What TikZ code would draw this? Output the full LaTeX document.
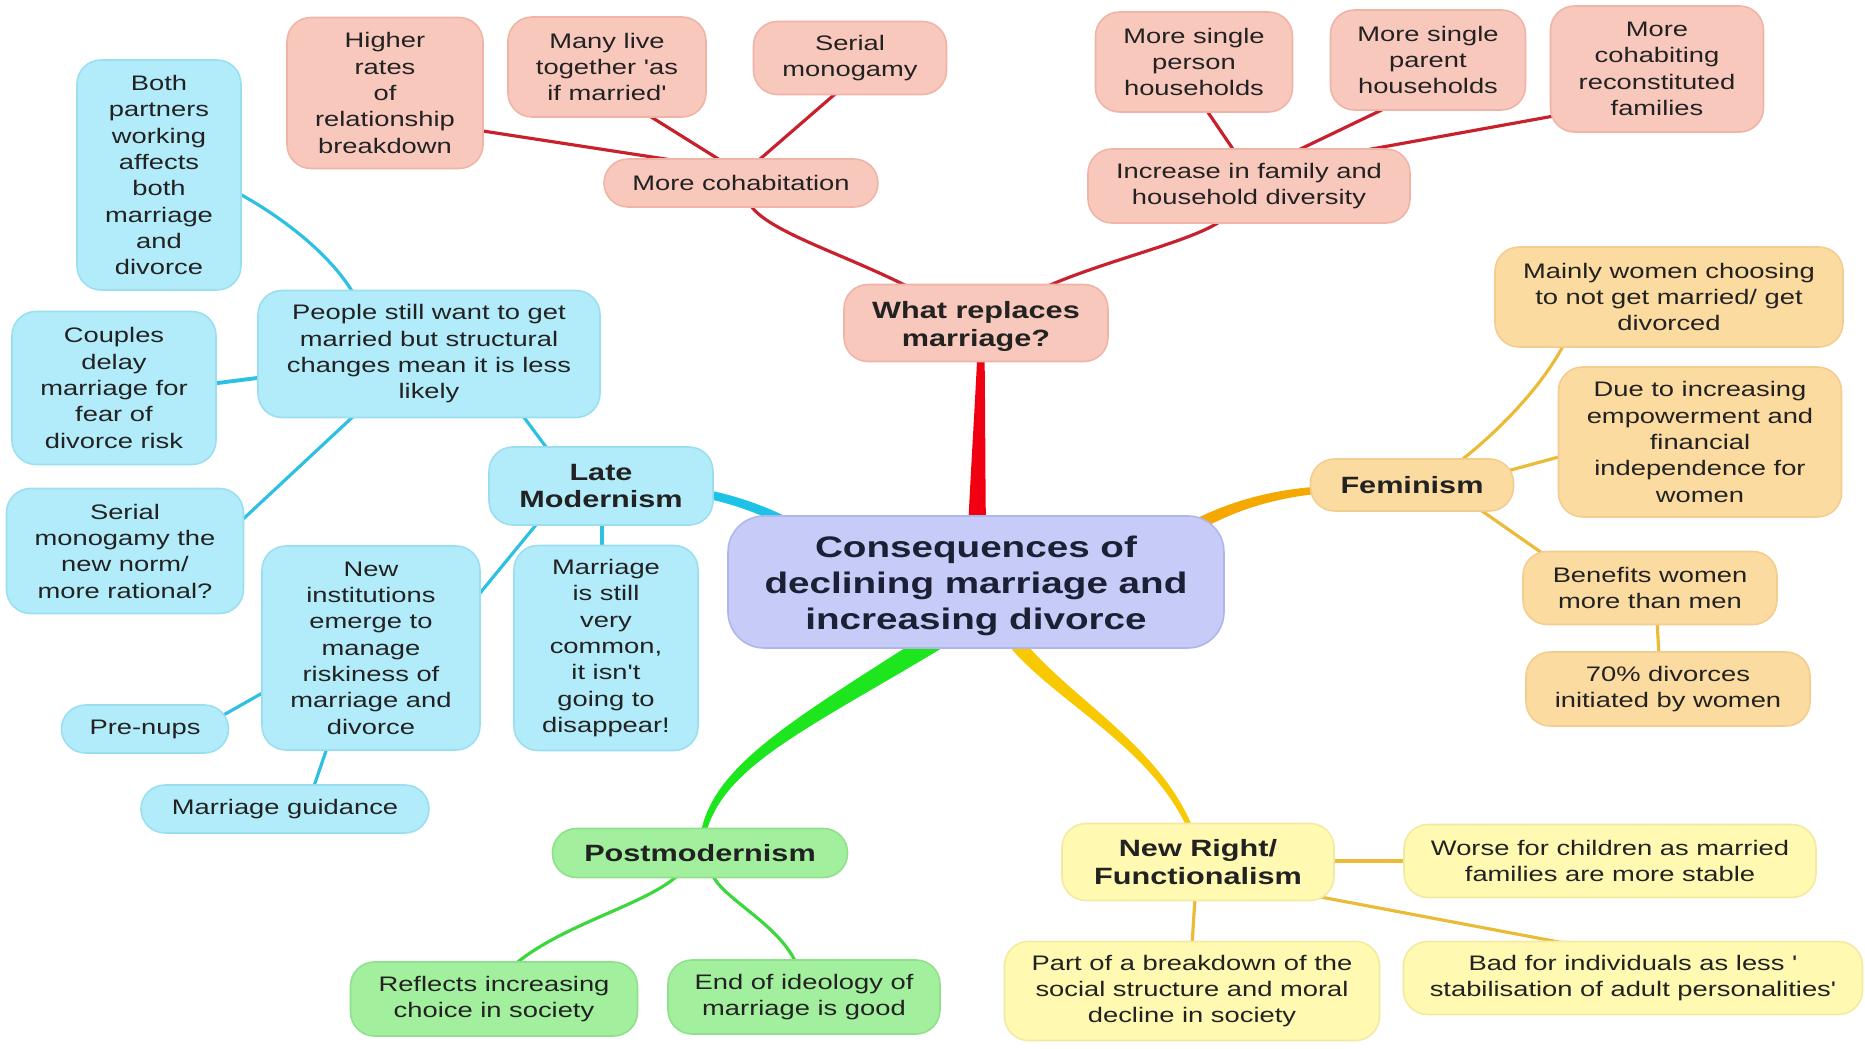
\documentclass[tikz,border=0pt]{standalone}
\usepackage{fontspec}
\newfontfamily\mmfont{Liberation Sans}[FakeStretch=1.3, Ligatures=TeXOff]
\usetikzlibrary{calc}
\pgfdeclarelayer{paper}
\pgfdeclarelayer{links}
\pgfsetlayers{paper,links,main}

% box fills and outlines
\definecolor{pinkfill}{HTML}{F9C8BC}\definecolor{pinkline}{HTML}{F0B4A6}
\definecolor{cyanfill}{HTML}{B2ECFA}\definecolor{cyanline}{HTML}{9ADFF0}
\definecolor{orngfill}{HTML}{FCDBA0}\definecolor{orngline}{HTML}{F3CD90}
\definecolor{yellfill}{HTML}{FFF9B2}\definecolor{yellline}{HTML}{F2EAA2}
\definecolor{grenfill}{HTML}{A2F09E}\definecolor{grenline}{HTML}{8FE08B}
\definecolor{centfill}{HTML}{C6CCF7}\definecolor{centline}{HTML}{AFB6EA}
\definecolor{textcol}{HTML}{222222}\definecolor{titlecol}{HTML}{1B2035}
% connector colours
\definecolor{redmain}{HTML}{F00010}\definecolor{redthin}{HTML}{C8202C}
\definecolor{cyanmain}{HTML}{1CC3E6}\definecolor{cyanthin}{HTML}{2CC0E2}
\definecolor{orngmain}{HTML}{F5A800}\definecolor{goldthin}{HTML}{EBBB38}
\definecolor{yellmain}{HTML}{F8C800}
\definecolor{grenmain}{HTML}{1EE61E}\definecolor{grenthin}{HTML}{3CD73C}

\tikzset{
  box/.style={rectangle, rounded corners=0.24cm, draw, line width=0.45pt,
    inner sep=0pt, align=center, text=textcol,
    font=\mmfont\fontsize{5.98}{7.49}\selectfont},
  sz/.style 2 args={minimum width=#1*0.01cm, minimum height=#2*0.01cm},
  pinkbox/.style={box, fill=pinkfill, draw=pinkline},
  cyanbox/.style={box, fill=cyanfill, draw=cyanline},
  orngbox/.style={box, fill=orngfill, draw=orngline},
  yellbox/.style={box, fill=yellfill, draw=yellline},
  grenbox/.style={box, fill=grenfill, draw=grenline},
  head/.style={font=\mmfont\fontsize{6.7}{7.8}\selectfont\bfseries},
  link/.style={line width=0.9pt, line cap=round},
  redlink/.style={link, draw=redthin},
  cyanlink/.style={link, draw=cyanthin},
  goldlink/.style={link, draw=goldthin},
  grenlink/.style={link, draw=grenthin},
}

% tapered branch: colour, start, control 1, control 2, end, half width at start / end (pt)
\newcommand\taperlink[7]{%
  \fill[#1] let \p0=#2, \p1=#3, \p2=#4, \p3=#5,
      \n0={atan2(\y1-\y0,\x1-\x0)}, \n3={atan2(\y3-\y2,\x3-\x2)},
      \n5={#6*0.67+#7*0.33}, \n6={#6*0.33+#7*0.67} in
    ($(\p0)+(\n0+90:#6pt)$) .. controls ($(\p1)+(\n0+90:\n5pt)$) and ($(\p2)+(\n3+90:\n6pt)$) .. ($(\p3)+(\n3+90:#7pt)$)
    -- ($(\p3)+(\n3-90:#7pt)$) .. controls ($(\p2)+(\n3-90:\n6pt)$) and ($(\p1)+(\n0-90:\n5pt)$) .. ($(\p0)+(\n0-90:#6pt)$) -- cycle;}

\begin{document}
\begin{tikzpicture}[x=0.01cm, y=-0.01cm]
\begin{pgfonlayer}{paper}
\fill[white] (0,0) rectangle (1865,1049);
\end{pgfonlayer}
\useasboundingbox (0,0) rectangle (1865,1049);

% centre
\node[box, fill=centfill, draw=centline, rounded corners=0.36cm, sz={496}{132},
  font=\mmfont\fontsize{8.45}{10.3}\selectfont\bfseries, text=titlecol]
  (central) at (976,582) {\rule{0pt}{8.2pt}Consequences of\\declining marriage and\\increasing divorce};

% what replaces marriage
\node[pinkbox, head, sz={264}{77}] (whatrep) at (976,323) {\rule{0pt}{6.9pt}What replaces\\marriage?};
\node[pinkbox, sz={274}{48}] (cohab) at (741,183) {More cohabitation};
\node[pinkbox, sz={196}{151}] (higher) at (385,93) {Higher\\rates\\of\\relationship\\breakdown};
\node[pinkbox, sz={198}{100}] (manylive) at (607,67) {Many live\\together 'as\\if married'};
\node[pinkbox, sz={193}{73}] (serialmono) at (850,58) {Serial\\monogamy};
\node[pinkbox, sz={322}{74}] (increase) at (1249,186) {Increase in family and\\household diversity};
\node[pinkbox, sz={197}{100}] (singleperson) at (1194,62) {More single\\person\\households};
\node[pinkbox, sz={195}{100}] (singleparent) at (1428,60) {More single\\parent\\households};
\node[pinkbox, sz={213}{126}] (recon) at (1657,69) {More\\cohabiting\\reconstituted\\families};

% feminism
\node[orngbox, head, sz={203}{52}] (feminism) at (1412,485) {Feminism};
\node[orngbox, sz={348}{100}] (mainly) at (1669,297) {Mainly women choosing\\to not get married/ get\\divorced};
\node[orngbox, sz={283}{150}] (dueto) at (1700,442) {Due to increasing\\empowerment and\\financial\\independence for\\women};
\node[orngbox, sz={254}{73}] (benefits) at (1650,588) {Benefits women\\more than men};
\node[orngbox, sz={284}{74}] (seventy) at (1668,689) {70\% divorces\\initiated by women};

% new right / functionalism
\node[yellbox, head, sz={272}{77}] (newright) at (1198,862) {New Right/\\Functionalism};
\node[yellbox, sz={412}{73}] (worse) at (1610,861) {Worse for children as married\\families are more stable};
\node[yellbox, sz={375}{99}] (partof) at (1192,991) {Part of a breakdown of the\\social structure and moral\\decline in society};
\node[yellbox, sz={459}{73}] (badfor) at (1633,978) {Bad for individuals as less '\\stabilisation of adult personalities'};

% postmodernism
\node[grenbox, head, sz={295}{49}] (postmod) at (700,853) {Postmodernism};
\node[grenbox, sz={287}{74}] (reflects) at (494,999) {Reflects increasing\\choice in society};
\node[grenbox, sz={272}{74}] (endof) at (804,997) {End of ideology of\\marriage is good};

% late modernism
\node[cyanbox, head, sz={224}{78}] (latemod) at (601,486) {Late\\Modernism};
\node[cyanbox, sz={342}{127}] (people) at (429,354) {People still want to get\\married but  structural\\changes mean it is less\\likely};
\node[cyanbox, sz={164}{230}] (both) at (159,175) {Both\\partners\\working\\affects\\both\\marriage\\and\\divorce};
\node[cyanbox, sz={204}{153}] (couples) at (114,388) {Couples\\delay\\marriage for\\fear of\\divorce risk};
\node[cyanbox, sz={237}{125}] (serialnew) at (125,551) {Serial\\monogamy the\\new norm/\\more rational?};
\node[cyanbox, sz={218}{204}] (newinst) at (371,648) {New\\institutions\\emerge to\\manage\\riskiness of\\marriage and\\divorce};
\node[cyanbox, sz={184}{205}] (stillcommon) at (606,648) {Marriage\\is still\\very\\common,\\it isn't\\going to\\disappear!};
\node[cyanbox, sz={167}{48}] (prenups) at (145,729) {Pre-nups};
\node[cyanbox, sz={288}{48}] (guidance) at (285,809) {Marriage guidance};

\begin{pgfonlayer}{links}
% main branches from the centre
\taperlink{redmain}{($(central)+(1,-52)$)}{($(central)+(2,-112)$)}{($(whatrep)+(4,87)$)}{($(whatrep)+(5,29)$)}{2.56}{1.0}
\taperlink{cyanmain}{($(latemod)+(105,8)$)}{($(latemod)+(129,13)$)}{($(central)+(-216,-74)$)}{($(central)+(-186,-58)$)}{1.2}{1.35}
\taperlink{orngmain}{($(central)+(219,-56)$)}{($(central)+(256,-76)$)}{($(feminism)+(-140,9)$)}{($(feminism)+(-92,5)$)}{1.7}{1.0}
\taperlink{grenmain}{($(central)+(-40,58)$)}{($(central)+(-175,142)$)}{($(postmod)+(17,-87)$)}{($(postmod)+(3,-18)$)}{2.85}{0.71}
\taperlink{yellmain}{($(central)+(36,56)$)}{($(central)+(84,118)$)}{($(newright)+(-40,-117)$)}{($(newright)+(-5,-27)$)}{2.13}{0.71}

% what replaces marriage
\draw[redlink] ($(higher)+(88,36.5)$) -- ($(cohab)+(-66,-22.5)$);
\draw[redlink] ($(manylive)+(33,43)$) -- ($(cohab)+(-13,-18)$);
\draw[redlink] ($(serialmono)+(-8,30)$) -- ($(cohab)+(11,-17)$);
\draw[redlink] ($(cohab)+(7,17)$) .. controls ($(cohab)+(17,47)$) and ($(whatrep)+(-126,-68)$) .. ($(whatrep)+(-58,-31)$);
\draw[redlink] ($(increase)+(-21,29)$) .. controls ($(increase)+(-44,54)$) and ($(whatrep)+(124,-63)$) .. ($(whatrep)+(59,-31)$);
\draw[redlink] ($(singleperson)+(9,43)$) -- ($(increase)+(-12,-31)$);
\draw[redlink] ($(singleparent)+(-38,46)$) -- ($(increase)+(39,-31)$);
\draw[redlink] ($(recon)+(-92,45)$) -- ($(increase)+(106,-34)$);

% feminism
\draw[goldlink] ($(feminism)+(43,-20)$) .. controls ($(feminism)+(83,-50)$) and ($(mainly)+(-124,88)$) .. ($(mainly)+(-102,41)$);
\draw[goldlink] ($(feminism)+(88,-12)$) -- ($(dueto)+(-134,13)$);
\draw[goldlink] ($(feminism)+(60,19)$) -- ($(benefits)+(-98,-28)$);
\draw[goldlink] ($(benefits)+(7,32)$) -- ($(seventy)+(-9,-34)$);

% new right / functionalism
\draw[goldlink, line width=1.2pt] ($(newright)+(132,-1)$) -- ($(worse)+(-200,0)$);
\draw[goldlink] ($(newright)+(-3,36)$) -- ($(partof)+(0,-45)$);
\draw[goldlink] ($(newright)+(112,33)$) -- ($(badfor)+(-53,-32)$);

% postmodernism
\draw[grenlink] ($(postmod)+(-23,23)$) .. controls ($(postmod)+(-55,52)$) and ($(reflects)+(66,-74)$) .. ($(reflects)+(19,-33)$);
\draw[grenlink] ($(postmod)+(13,23)$) .. controls ($(postmod)+(25,47)$) and ($(endof)+(-24,-72)$) .. ($(endof)+(-7,-32)$);

% late modernism
\draw[cyanlink] ($(latemod)+(1,34)$) -- ($(stillcommon)+(-4,-96)$);
\draw[cyanlink] ($(latemod)+(-61,34)$) -- ($(newinst)+(105,-50)$);
\draw[cyanlink] ($(people)+(91,58)$) -- ($(latemod)+(-49,-31)$);
\draw[cyanlink] ($(serialnew)+(115,-29)$) -- ($(people)+(-71,58)$);
\draw[cyanlink] ($(both)+(77,17)$) .. controls ($(both)+(111,35)$) and ($(people)+(-99,-104)$) .. ($(people)+(-73,-56)$);
\draw[cyanlink, line width=1.1pt] ($(couples)+(96,-4)$) -- ($(people)+(-164,23)$);
\draw[cyanlink] ($(newinst)+(-105,43)$) -- ($(prenups)+(75,-12)$);
\draw[cyanlink] ($(newinst)+(-43,97)$) -- ($(guidance)+(27,-17)$);
\end{pgfonlayer}
\end{tikzpicture}
\end{document}
